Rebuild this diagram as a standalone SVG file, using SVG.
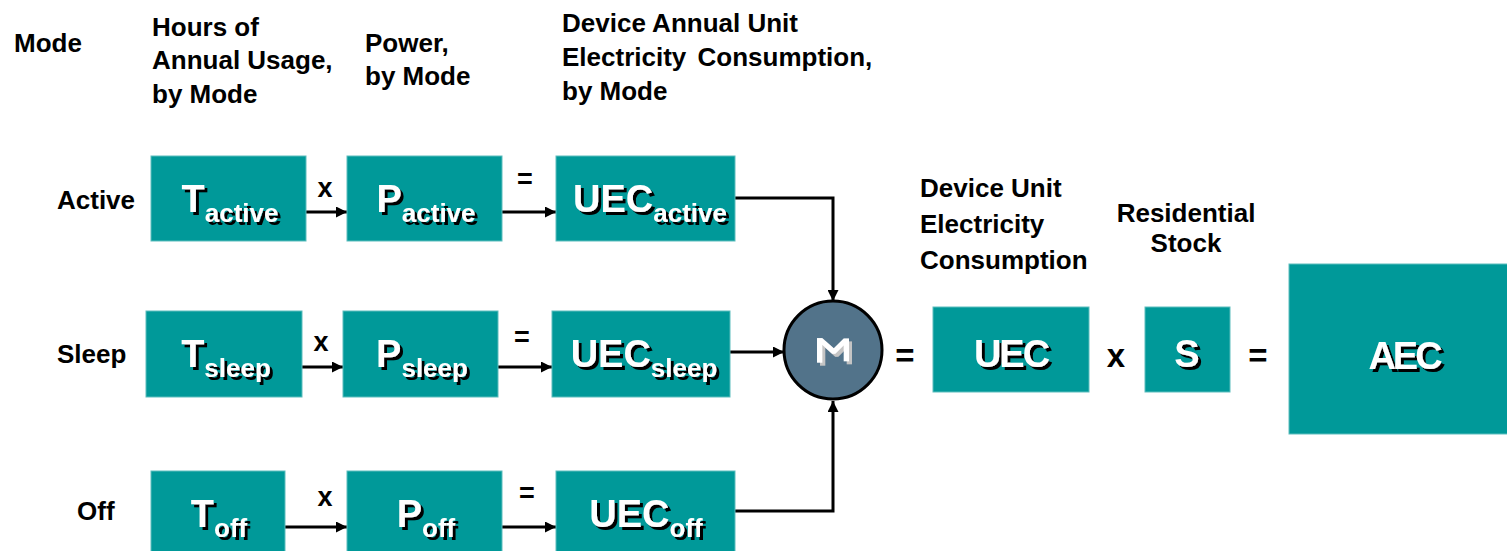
<svg xmlns="http://www.w3.org/2000/svg" width="1507" height="551" viewBox="0 0 1507 551">
  <defs>
    <style>
      .hdr { font-family: "Liberation Sans", Arial, sans-serif; font-weight: bold; font-size: 26px; fill: #000; }
      .op { font-family: "Liberation Sans", Arial, sans-serif; font-weight: bold; font-size: 27px; fill: #000; text-anchor: middle; }
      .bigop { font-family: "Liberation Sans", Arial, sans-serif; font-weight: bold; font-size: 33px; fill: #000; text-anchor: middle; }
      .box { fill: #009999; stroke: #5cbdbd; stroke-width: 1; }
      .lbl { font-family: "Liberation Sans", Arial, sans-serif; font-weight: bold; font-size: 38px; fill: #fff; text-anchor: middle; filter: url(#shadow); }
      .sub { font-size: 26px; }
      .wire { fill: none; stroke: #000; stroke-width: 3; }
    </style>
    <filter id="shadow" x="-10%" y="-10%" width="130%" height="140%">
      <feOffset in="SourceAlpha" dx="2.5" dy="2.5" result="off"/>
      <feFlood flood-color="#000"/>
      <feComposite in2="off" operator="in" result="sh"/>
      <feMerge><feMergeNode in="sh"/><feMergeNode in="SourceGraphic"/></feMerge>
    </filter>
    <filter id="softshadow" x="-20%" y="-20%" width="150%" height="150%">
      <feOffset in="SourceAlpha" dx="2" dy="-2" result="off"/>
      <feFlood flood-color="#c4c4c4"/>
      <feComposite in2="off" operator="in" result="sh"/>
      <feMerge><feMergeNode in="sh"/><feMergeNode in="SourceGraphic"/></feMerge>
    </filter>
    <marker id="arrow" viewBox="0 0 10 10" refX="10" refY="5" markerWidth="11" markerHeight="11" markerUnits="userSpaceOnUse" orient="auto">
      <path d="M0,0 L10,5 L0,10 z" fill="#000"/>
    </marker>
  </defs>

  <!-- column and row headings -->
  <g id="headings">
    <text class="hdr" x="14" y="52">Mode</text>
    <text class="hdr" x="152" y="36">Hours of</text>
    <text class="hdr" x="152" y="69">Annual Usage,</text>
    <text class="hdr" x="152" y="103">by Mode</text>
    <text class="hdr" x="365" y="52">Power,</text>
    <text class="hdr" x="365" y="85">by Mode</text>
    <text class="hdr" x="562" y="32">Device Annual Unit</text>
    <text class="hdr" x="562" y="66" word-spacing="4">Electricity Consumption,</text>
    <text class="hdr" x="562" y="100">by Mode</text>
    <text class="hdr" x="920" y="197">Device Unit</text>
    <text class="hdr" x="920" y="233">Electricity</text>
    <text class="hdr" x="920" y="269">Consumption</text>
    <text class="hdr" x="1186" y="222" text-anchor="middle">Residential</text>
    <text class="hdr" x="1186" y="252" text-anchor="middle">Stock</text>
    <text class="hdr" x="57" y="209">Active</text>
    <text class="hdr" x="57" y="363">Sleep</text>
    <text class="hdr" x="77" y="520">Off</text>
  </g>

  <!-- connectors -->
  <g id="connectors">
    <line class="wire" x1="306" y1="212" x2="347" y2="212" marker-end="url(#arrow)"/>
    <line class="wire" x1="502" y1="212" x2="556" y2="212" marker-end="url(#arrow)"/>
    <line class="wire" x1="302" y1="367" x2="343" y2="367" marker-end="url(#arrow)"/>
    <line class="wire" x1="498" y1="367" x2="552" y2="367" marker-end="url(#arrow)"/>
    <line class="wire" x1="285" y1="527" x2="347" y2="527" marker-end="url(#arrow)"/>
    <line class="wire" x1="502" y1="527" x2="556" y2="527" marker-end="url(#arrow)"/>
    <polyline class="wire" points="735,198 833,198 833,301" marker-end="url(#arrow)"/>
    <line class="wire" x1="730" y1="352" x2="784" y2="352" marker-end="url(#arrow)"/>
    <polyline class="wire" points="735,511 833,511 833,401" marker-end="url(#arrow)"/>
  </g>

  <!-- operators -->
  <g id="operators">
    <text class="op" x="325" y="197">x</text>
    <text class="op" x="525" y="188">=</text>
    <text class="op" x="321" y="351">x</text>
    <text class="op" x="522" y="346">=</text>
    <text class="op" x="325" y="506">x</text>
    <text class="op" x="527" y="502">=</text>
    <text class="bigop" x="905" y="367">=</text>
    <text class="bigop" x="1116" y="367">x</text>
    <text class="bigop" x="1258" y="367">=</text>
  </g>

  <!-- active row -->
  <g id="t-active">
    <rect class="box" x="151" y="156" width="155" height="85"/>
    <text class="lbl" x="230" y="212">T<tspan class="sub" dy="10">active</tspan></text>
  </g>
  <g id="p-active">
    <rect class="box" x="347" y="156" width="155" height="85"/>
    <text class="lbl" x="426" y="212">P<tspan class="sub" dy="10">active</tspan></text>
  </g>
  <g id="uec-active">
    <rect class="box" x="556" y="156" width="179" height="85"/>
    <text class="lbl" x="650" y="212">UEC<tspan class="sub" dy="10">active</tspan></text>
  </g>

  <!-- sleep row -->
  <g id="t-sleep">
    <rect class="box" x="146" y="311" width="156" height="86"/>
    <text class="lbl" x="226" y="367">T<tspan class="sub" dy="10">sleep</tspan></text>
  </g>
  <g id="p-sleep">
    <rect class="box" x="343" y="311" width="155" height="86"/>
    <text class="lbl" x="422" y="367">P<tspan class="sub" dy="10">sleep</tspan></text>
  </g>
  <g id="uec-sleep">
    <rect class="box" x="552" y="311" width="178" height="86"/>
    <text class="lbl" x="644" y="367">UEC<tspan class="sub" dy="10">sleep</tspan></text>
  </g>

  <!-- off row -->
  <g id="t-off">
    <rect class="box" x="151" y="471" width="134" height="85"/>
    <text class="lbl" x="219" y="527">T<tspan class="sub" dy="10">off</tspan></text>
  </g>
  <g id="p-off">
    <rect class="box" x="347" y="471" width="155" height="85"/>
    <text class="lbl" x="426" y="527">P<tspan class="sub" dy="10">off</tspan></text>
  </g>
  <g id="uec-off">
    <rect class="box" x="556" y="471" width="179" height="85"/>
    <text class="lbl" x="646" y="527">UEC<tspan class="sub" dy="10">off</tspan></text>
  </g>

  <!-- summation -->
  <g id="sum">
    <circle cx="833" cy="350" r="49" fill="#52738a" stroke="#000" stroke-width="3"/>
    <text x="0" y="0" transform="translate(833 350) rotate(90) scale(1.3 1.27)" font-family="Liberation Sans, Arial, sans-serif" font-weight="bold" font-size="36" fill="#fff" text-anchor="middle" dominant-baseline="central" filter="url(#softshadow)">Σ</text>
  </g>

  <!-- totals -->
  <g id="uec">
    <rect class="box" x="933" y="307" width="156" height="85"/>
    <text class="lbl" x="1011" y="367" font-size="42" letter-spacing="-2">UEC</text>
  </g>
  <g id="stock">
    <rect class="box" x="1145" y="307" width="85" height="85"/>
    <text class="lbl" x="1187" y="367" font-size="42">S</text>
  </g>
  <g id="aec">
    <rect class="box" x="1289" y="264" width="220" height="170"/>
    <text class="lbl" x="1404" y="369" font-size="46" letter-spacing="-3">AEC</text>
  </g>
</svg>
